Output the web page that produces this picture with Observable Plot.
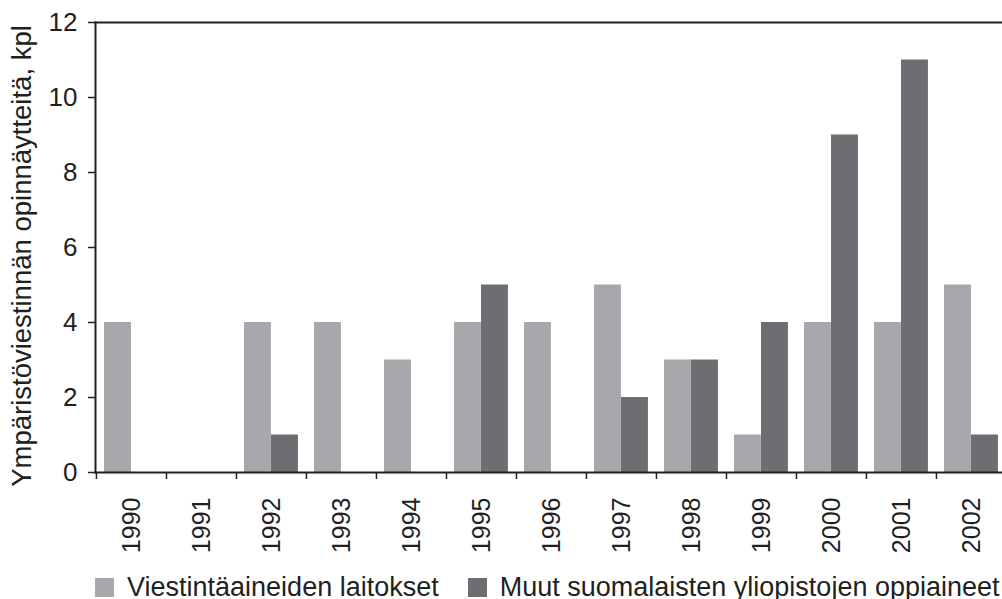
<!DOCTYPE html>
<html>
<head>
<meta charset="utf-8">
<script src="https://cdn.jsdelivr.net/npm/d3@7"></script>
<script src="https://cdn.jsdelivr.net/npm/@observablehq/plot@0.6"></script>
<style>
  html, body { margin: 0; padding: 0; background: #fff; }
  body { width: 1002px; height: 599px; overflow: hidden; font-family: "Liberation Sans", Arial, sans-serif; }
  #legend { position: absolute; left: 95px; top: 574px; width: 907px; white-space: nowrap; display: flex; align-items: center; font-size: 27px; color: #231f20; line-height: 26px; height: 26px; }
  .sw { width: 19px; height: 19px; display: inline-block; margin-right: 13px; flex: none; }
  .item { display: flex; align-items: center; margin-right: 29px; white-space: nowrap; flex: none; }
</style>
</head>
<body>
<div id="chart"></div>
<div id="legend"></div>
<script>
const years = ["1990","1991","1992","1993","1994","1995","1996","1997","1998","1999","2000","2001","2002"];
const seriesNames = ["Viestintäaineiden laitokset", "Muut suomalaisten yliopistojen oppiaineet"];
const viestinta = [4, 0, 4, 4, 3, 4, 4, 5, 3, 1, 4, 4, 5];
const muut = [0, 0, 1, 0, 0, 5, 0, 2, 3, 4, 9, 11, 1];
const yTicks = [0, 2, 4, 6, 8, 10, 12];
const yTitle = "Ympäristöviestinnän opinnäytteitä, kpl";
const colors = ["#a7a8ab", "#6d6e71"];

const dataA = years.map((y, i) => ({year: y, value: viestinta[i]}));
const dataB = years.map((y, i) => ({year: y, value: muut[i]}));

const left = 95, right = 1006;
const step = (right - left) / years.length;
const barW = 27, pad = 8;
const ink = "#231f20";

const chart = Plot.plot({
  width: 1002,
  height: 565,
  marginTop: 22,
  marginBottom: 93,
  marginLeft: left,
  marginRight: 0,
  style: {fontFamily: "'Liberation Sans', Arial, sans-serif", color: ink, background: "#fff"},
  x: {type: "band", domain: years, range: [left, right], padding: 0},
  y: {domain: [0, 12], ticks: yTicks},
  marks: [
    Plot.barY(dataA, {x: "year", y: "value", fill: colors[0], insetLeft: pad, insetRight: step - pad - barW}),
    Plot.barY(dataB, {x: "year", y: "value", fill: colors[1], insetLeft: pad + barW, insetRight: step - pad - 2 * barW}),
    Plot.frame({anchor: "left", stroke: ink, strokeWidth: 2}),
    Plot.frame({anchor: "top", stroke: ink, strokeWidth: 2}),
    Plot.frame({anchor: "bottom", stroke: ink, strokeWidth: 2}),
    Plot.axisY({ticks: yTicks, tickSize: 7, tickPadding: 11, fontSize: 26, label: null, stroke: ink, strokeWidth: 1.5}),
    Plot.axisX({tickSize: 7, tickFormat: () => "", dx: -step / 2, label: null, stroke: ink, strokeWidth: 1.5}),
    Plot.axisX({tickSize: 0, tickPadding: 25, tickRotate: -90, fontSize: 25, label: null}),
    Plot.text([yTitle], {frameAnchor: "left", textAnchor: "middle", rotate: -90, dx: -73, dy: 8.5, fontSize: 27.5, fill: ink})
  ]
});
document.getElementById("chart").appendChild(chart);

const legend = document.getElementById("legend");
seriesNames.forEach((name, i) => {
  const item = document.createElement("span");
  item.className = "item";
  const sw = document.createElement("span");
  sw.className = "sw";
  sw.style.background = colors[i];
  item.appendChild(sw);
  item.appendChild(document.createTextNode(name));
  legend.appendChild(item);
});
</script>
</body>
</html>
